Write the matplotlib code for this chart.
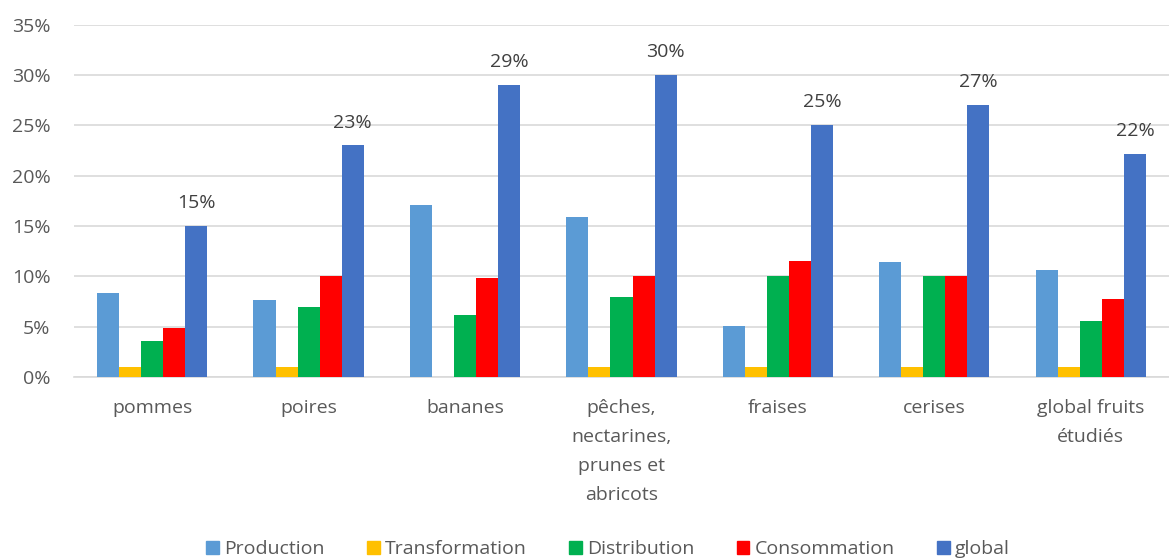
import numpy as np
import matplotlib.pyplot as plt
from matplotlib.patches import Patch

# pertes par étape de la chaîne, en % 
categories = ['pommes', 'poires', 'bananes',
              'pêches,\nnectarines,\nprunes et\nabricots',
              'fraises', 'cerises', 'global fruits\nétudiés']
series_names = ['Production', 'Transformation', 'Distribution', 'Consommation', 'global']
production = [8.3, 7.6, 17.1, 15.9, 5.1, 11.4, 10.6]
transformation = [1.0, 1.0, 0.0, 1.0, 1.0, 1.0, 1.0]
distribution = [3.6, 7.0, 6.2, 7.95, 10.0, 10.0, 5.6]
consommation = [4.9, 10.0, 9.85, 10.0, 11.5, 10.0, 7.7]
global_ = [15.0, 23.0, 29.0, 30.0, 25.0, 27.0, 22.2]
yticks = [0, 5, 10, 15, 20, 25, 30, 35]

colors = ['#5B9BD5', '#FFC000', '#00B050', '#FF0000', '#4472C4']
txt = '#595959'
plt.rcParams['font.family'] = ['Open Sans', 'DejaVu Sans']
fs = 14


def main():
    series = [production, transformation, distribution, consommation, global_]
    fig = plt.figure(figsize=(11.69, 5.58), dpi=100)
    ax = fig.add_axes([0.0633, 0.3244, 0.9367, 0.6313])

    x = np.arange(len(categories))
    w = 0.141
    for i, (vals, c) in enumerate(zip(series, colors)):
        ax.bar(x + (i - 2) * w, vals, w, color=c, zorder=3)

    # étiquettes au-dessus des barres "global"
    for xi, v in zip(x, global_):
        ax.annotate('{:.0f}%'.format(v), (xi + 2 * w, v), xytext=(0, 10),
                    textcoords='offset points', ha='center', va='bottom',
                    fontsize=fs, color='#404040')

    ax.set_xlim(-0.5, len(categories) - 0.5)
    ax.set_ylim(0, 35)
    ax.set_yticks(yticks)
    ax.set_yticklabels(['{}%'.format(t) for t in yticks])
    ax.set_xticks(x)
    ax.set_xticklabels(categories, linespacing=1.78, va='top')
    ax.tick_params(length=0, labelsize=fs, labelcolor=txt)
    ax.tick_params(axis='x', pad=16)
    ax.tick_params(axis='y', pad=17)
    ax.grid(axis='y', color='#d9d9d9', linewidth=1.2, zorder=0)
    for s in ['top', 'right', 'left']:
        ax.spines[s].set_visible(False)
    ax.spines['bottom'].set_color('#d9d9d9')
    ax.spines['bottom'].set_linewidth(1.2)

    handles = [Patch(color=c, label=n) for c, n in zip(colors, series_names)]
    fig.legend(handles=handles, loc='center', bbox_to_anchor=(0.52, 0.016),
               ncol=5, frameon=False, fontsize=fs, labelcolor=txt,
               handlelength=0.65, handleheight=0.65, handletextpad=0.25,
               columnspacing=2.2)

    fig.savefig('out.png', dpi=100)


if __name__ == "__main__":
    main()
